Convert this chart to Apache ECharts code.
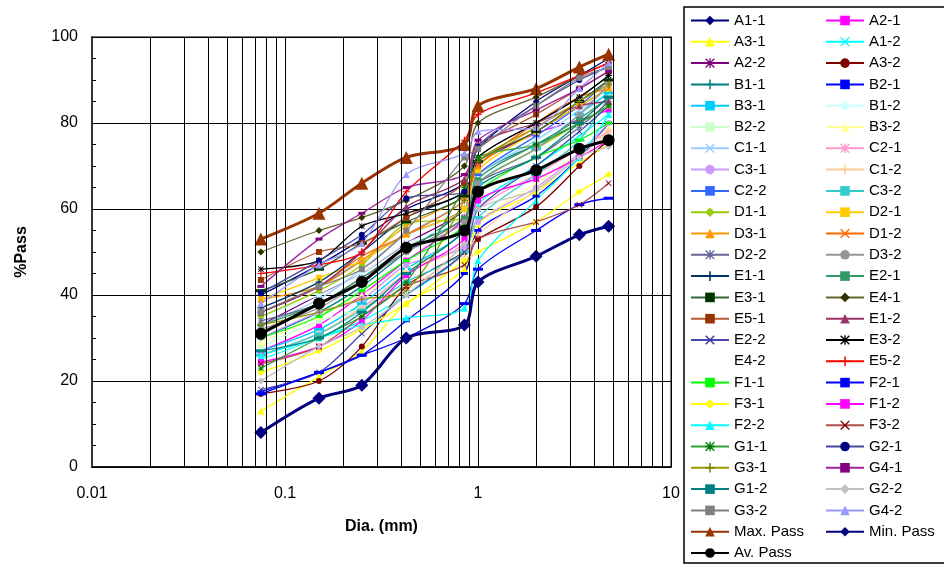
<!DOCTYPE html>
<html>
<head>
<meta charset="utf-8">
<title>%Pass</title>
<script src="https://cdn.jsdelivr.net/npm/echarts@6/dist/echarts.min.js"></script>
<style>
  html, body { margin: 0; background: #fff; }
  #main { width: 944px; height: 566px; }
</style>
</head>
<body>
<div id="main"></div>
<script>
// sieve sizes, mm
var dia = [0.075, 0.15, 0.25, 0.425, 0.85, 1, 2, 3.35, 4.75];

// % passing per sample
var A1_1 = [40, 47, 53, 60, 66, 74, 85, 91, 95];
var A2_1 = [27, 33, 40, 48, 58, 70, 77.6, 80.7, 83];
var A3_1 = [13, 21, 27, 38, 46, 56.5, 64, 70.7, 75];
var A1_2 = [25, 30, 34, 40, 50, 61, 70, 77, 82];
var A2_2 = [33, 40, 45, 52, 60, 70, 78, 84, 88];
var A3_2 = [17, 20, 28, 42, 50, 53, 60.5, 70, 76];
var B1_1 = [30, 36, 42, 50, 60, 68, 75, 80, 84];
var B2_1 = [17.5, 22, 26, 34, 45, 55, 63, 72, 80];
var B3_1 = [27, 32, 38, 46, 55, 66, 74, 82, 87];
var B1_2 = [35, 40, 45, 52, 58, 68, 76, 82, 89.5];
var B2_2 = [28, 34, 37, 45, 55, 65, 72, 79, 84];
var B3_2 = [29, 35, 40, 46, 51, 57, 66, 73, 79];
var C1_1 = [33, 39, 46, 54, 62, 68, 76, 83, 88];
var C2_1 = [26, 31, 37, 45, 52, 60, 68, 74, 78];
var C3_1 = [30, 36, 39, 47, 51, 57, 65, 73, 80];
var C1_2 = [26, 31, 37, 42, 49, 54, 64.5, 72, 78];
var C2_2 = [36, 42, 48, 54, 60, 68, 77, 84, 90];
var C3_2 = [26, 31, 36.5, 43, 50, 58, 68, 76, 86];
var D1_1 = [35, 41, 47, 56.5, 58, 66, 74, 80, 84];
var D2_1 = [39, 44, 48, 54, 60, 69, 78, 84, 88];
var D3_1 = [39, 42, 48, 56, 63, 70, 79, 85, 90];
var D1_2 = [36, 42, 49, 54, 62, 70, 80, 86, 88];
var D2_2 = [34, 38, 44, 50, 58, 66, 72, 79, 85];
var D3_2 = [32, 37, 43, 50, 57, 66, 74, 82, 89];
var E1_1 = [37, 43, 50, 58, 64, 72, 80, 86, 91];
var E2_1 = [33, 38, 44, 51, 58, 67, 75, 81, 86];
var E3_1 = [41, 46, 52, 57, 63, 71, 78, 85, 90];
var E4_1 = [50, 55, 58, 62, 70, 80, 86, 91, 94];
var E5_1 = [43.5, 50, 52, 58, 66, 74, 82, 88, 92];
var E1_2 = [36, 42, 50, 60.5, 67, 75, 80, 84, 85];
var E2_2 = [18, 22, 31, 40, 50, 60, 70, 78, 84];
var E3_2 = [46, 48, 56, 59, 64, 72, 80, 86, 91];
var E4_2 = [38, 44, 50, 56, 62, 70, 78, 85, 90];
var E5_2 = [45, 47, 50, 64, 76, 82, 87, 91, 94];
var F1_1 = [30, 35, 41, 48, 56, 64, 72, 76, 80];
var F2_1 = [17, 22, 26, 30, 38, 46, 55, 61, 62.5];
var F3_1 = [22, 27, 32, 38, 48, 50, 57, 64, 68];
var F1_2 = [24.4, 28, 34, 44.6, 53, 62, 67, 72, 76];
var F2_2 = [26, 30, 33, 34.7, 37, 48, 62, 72, 82];
var F3_2 = [24, 28, 35, 42, 47, 53, 57, 61, 66];
var G1_1 = [23, 30, 35, 43, 65, 72, 75, 80, 84];
var G2_1 = [40.5, 48, 54, 62.5, 64, 74.5, 84, 90, 93];
var G3_1 = [33, 36, 39, 41, 62, 71, 79, 85, 89];
var G4_1 = [42, 53, 59, 65, 68, 76, 83, 88, 92];
var G1_2 = [27, 30, 36, 45, 55, 65, 72, 80, 86];
var G2_2 = [20, 28, 32.5, 40, 52, 60, 64.5, 72, 74.5];
var G3_2 = [36, 42, 46, 55, 72, 74, 84, 90.5, 93];
var G4_2 = [38, 47, 52, 68, 73, 78, 79, 88, 94];

var maxPass = [53, 59, 66, 72, 75, 84, 88, 93, 96];
var minPass = [8, 16, 19, 30, 33, 43, 49, 54, 56];
var avPass  = [31, 38, 43, 51, 55, 64, 69, 74, 76];

var samples = {
  'A1-1': A1_1, 'A2-1': A2_1, 'A3-1': A3_1, 'A1-2': A1_2, 'A2-2': A2_2, 'A3-2': A3_2,
  'B1-1': B1_1, 'B2-1': B2_1, 'B3-1': B3_1, 'B1-2': B1_2, 'B2-2': B2_2, 'B3-2': B3_2,
  'C1-1': C1_1, 'C2-1': C2_1, 'C3-1': C3_1, 'C1-2': C1_2, 'C2-2': C2_2, 'C3-2': C3_2,
  'D1-1': D1_1, 'D2-1': D2_1, 'D3-1': D3_1, 'D1-2': D1_2, 'D2-2': D2_2, 'D3-2': D3_2,
  'E1-1': E1_1, 'E2-1': E2_1, 'E3-1': E3_1, 'E4-1': E4_1, 'E5-1': E5_1,
  'E1-2': E1_2, 'E2-2': E2_2, 'E3-2': E3_2, 'E4-2': E4_2, 'E5-2': E5_2,
  'F1-1': F1_1, 'F2-1': F2_1, 'F3-1': F3_1, 'F1-2': F1_2, 'F2-2': F2_2, 'F3-2': F3_2,
  'G1-1': G1_1, 'G2-1': G2_1, 'G3-1': G3_1, 'G4-1': G4_1,
  'G1-2': G1_2, 'G2-2': G2_2, 'G3-2': G3_2, 'G4-2': G4_2
};

// minor log grid lines
var minorLines = [0.02, 0.03, 0.04, 0.05, 0.06, 0.07, 0.08, 0.09,
                  0.2, 0.3, 0.4, 0.5, 0.6, 0.7, 0.8, 0.9,
                  2, 3, 4, 5, 6, 7, 8, 9];

var leftNames = ['A1-1', 'A3-1', 'A2-2', 'B1-1', 'B3-1', 'B2-2', 'C1-1', 'C3-1', 'C2-2',
  'D1-1', 'D3-1', 'D2-2', 'E1-1', 'E3-1', 'E5-1', 'E2-2', 'E4-2', 'F1-1', 'F3-1', 'F2-2',
  'G1-1', 'G3-1', 'G1-2', 'G3-2', 'Max. Pass', 'Av. Pass'];
var rightNames = ['A2-1', 'A1-2', 'A3-2', 'B2-1', 'B1-2', 'B3-2', 'C2-1', 'C1-2', 'C3-2',
  'D2-1', 'D1-2', 'D3-2', 'E2-1', 'E4-1', 'E1-2', 'E3-2', 'E5-2', 'F2-1', 'F1-2', 'F3-2',
  'G2-1', 'G4-1', 'G2-2', 'G4-2', 'Min. Pass'];

// marker shapes like the Excel ones
var CROSS = 'path://M0,1L1,0L5,4L9,0L10,1L6,5L10,9L9,10L5,6L1,10L0,9L4,5Z';
var PLUS = 'path://M4.2,0H5.8V4.2H10V5.8H5.8V10H4.2V5.8H0V4.2H4.2Z';
var STAR = 'path://M4.3,0H5.7V4.3H10V5.7H5.7V10H4.3V5.7H0V4.3H4.3Z M0,1L1,0L5,4L9,0L10,1L6,5L10,9L9,10L5,6L1,10L0,9L4,5Z';
var SHORT = [7, 3], LONG = [10, 3];

// name: [line colour, marker colour, symbol, size]
var style = {
  'A1-1': ['#000080', '#000080', 'diamond', 7],
  'A2-1': ['#FF00FF', '#FF00FF', 'rect', 6],
  'A3-1': ['#FFFF00', '#FFFF00', 'triangle', 7],
  'A1-2': ['#00FFFF', '#00FFFF', CROSS, 6],
  'A2-2': ['#800080', '#800080', STAR, 6],
  'A3-2': ['#800000', '#800000', 'circle', 6],
  'B1-1': ['#008080', '#008080', PLUS, 7],
  'B2-1': ['#0000FF', '#0000FF', 'rect', SHORT],
  'B3-1': ['#00CCFF', '#00CCFF', 'rect', LONG],
  'B1-2': ['#CCFFFF', '#CCFFFF', 'diamond', 7],
  'B2-2': ['#CCFFCC', '#CCFFCC', 'rect', 6],
  'B3-2': ['#FFFF99', '#FFFF99', 'triangle', 7],
  'C1-1': ['#99CCFF', '#99CCFF', CROSS, 6],
  'C2-1': ['#FF99CC', '#FF99CC', STAR, 6],
  'C3-1': ['#CC99FF', '#CC99FF', 'circle', 6],
  'C1-2': ['#FFCC99', '#FFCC99', PLUS, 7],
  'C2-2': ['#3366FF', '#3366FF', 'rect', SHORT],
  'C3-2': ['#33CCCC', '#33CCCC', 'rect', LONG],
  'D1-1': ['#99CC00', '#99CC00', 'diamond', 7],
  'D2-1': ['#FFCC00', '#FFCC00', 'rect', 6],
  'D3-1': ['#FF9900', '#FF9900', 'triangle', 7],
  'D1-2': ['#FF6600', '#FF6600', CROSS, 6],
  'D2-2': ['#666699', '#666699', STAR, 6],
  'D3-2': ['#969696', '#969696', 'circle', 6],
  'E1-1': ['#003366', '#003366', PLUS, 7],
  'E2-1': ['#339966', '#339966', 'rect', SHORT],
  'E3-1': ['#336633', '#003300', 'rect', LONG],
  'E4-1': ['#666633', '#333300', 'diamond', 7],
  'E5-1': ['#B35C33', '#993300', 'rect', 6],
  'E1-2': ['#993366', '#993366', 'triangle', 7],
  'E2-2': ['#4747B3', '#333399', CROSS, 6],
  'E3-2': ['#000000', '#000000', STAR, 6],
  'E4-2': ['#FFFFFF', '#FFFFFF', 'none', 0],
  'E5-2': ['#FF0000', '#FF0000', PLUS, 7],
  'F1-1': ['#00FF00', '#00FF00', 'rect', SHORT],
  'F2-1': ['#0000FF', '#0000FF', 'rect', LONG],
  'F3-1': ['#FFFF00', '#FFFF00', 'diamond', 7],
  'F1-2': ['#FF00FF', '#FF00FF', 'rect', 6],
  'F2-2': ['#00FFFF', '#00FFFF', 'triangle', 7],
  'F3-2': ['#B34D4D', '#800000', CROSS, 6],
  'G1-1': ['#33A033', '#008000', STAR, 6],
  'G2-1': ['#4747A0', '#000080', 'circle', 6],
  'G3-1': ['#999900', '#808000', PLUS, 7],
  'G4-1': ['#A020A0', '#800080', 'rect', SHORT],
  'G1-2': ['#008080', '#008080', 'rect', LONG],
  'G2-2': ['#C0C0C0', '#C0C0C0', 'diamond', 7],
  'G3-2': ['#808080', '#808080', 'rect', 6],
  'G4-2': ['#9999FF', '#9999FF', 'triangle', 7]
};

function pairs(vals) {
  return dia.map(function (d, i) { return [d, vals[i]]; });
}

var series = [{
  name: 'grid',
  type: 'line',
  data: [],
  z: 1,
  silent: true,
  markLine: {
    silent: true,
    symbol: ['none', 'none'],
    label: { show: false },
    lineStyle: { color: '#000', width: 1, type: 'solid' },
    data: minorLines.map(function (v) { return { xAxis: v }; })
  }
}];

Object.keys(samples).forEach(function (name) {
  var s = style[name];
  series.push({
    name: name,
    type: 'line',
    smooth: 0.3,
    data: pairs(samples[name]),
    symbol: s[2],
    symbolSize: s[3],
    z: 3,
    lineStyle: { color: s[0], width: 1.3, opacity: name === 'E4-2' ? 0 : 1 },
    itemStyle: { color: s[1] }
  });
});

series.push({
  name: 'Max. Pass', type: 'line', smooth: 0.3, data: pairs(maxPass),
  symbol: 'triangle', symbolSize: 13, z: 4,
  lineStyle: { color: '#993300', width: 3 }, itemStyle: { color: '#993300' }
});
series.push({
  name: 'Min. Pass', type: 'line', smooth: 0.3, data: pairs(minPass),
  symbol: 'diamond', symbolSize: 13, z: 4,
  lineStyle: { color: '#000080', width: 3 }, itemStyle: { color: '#000080' }
});
series.push({
  name: 'Av. Pass', type: 'line', smooth: 0.3, data: pairs(avPass),
  symbol: 'circle', symbolSize: 12, z: 4,
  lineStyle: { color: '#000000', width: 3 }, itemStyle: { color: '#000000' }
});

var font = 'Liberation Sans, Arial, sans-serif';
var legendBase = {
  orient: 'vertical',
  top: 13,
  height: 560,
  padding: 0,
  itemWidth: 38,
  itemHeight: 12,
  itemGap: 6.3,
  selectedMode: false,
  textStyle: { fontFamily: font, fontSize: 15, color: '#000', lineHeight: 15 }
};

var myChart = echarts.init(document.getElementById('main'));
myChart.setOption({
  animation: false,
  backgroundColor: '#fff',
  grid: {
    left: 92, right: 273, top: 37, bottom: 99,
    show: true, borderColor: '#808080', borderWidth: 2
  },
  xAxis: {
    type: 'log',
    logBase: 10,
    min: 0.01,
    max: 10,
    name: 'Dia. (mm)',
    nameLocation: 'middle',
    nameGap: 52,
    nameTextStyle: { fontFamily: font, fontSize: 16, fontWeight: 'bold', color: '#000' },
    axisLine: { lineStyle: { color: '#000', width: 1.5 } },
    axisTick: { show: false },
    axisLabel: { fontFamily: font, fontSize: 16, color: '#000', margin: 19 },
    splitLine: { show: true, lineStyle: { color: '#000', width: 1 } }
  },
  yAxis: {
    type: 'value',
    min: 0,
    max: 100,
    interval: 20,
    name: '%Pass',
    nameLocation: 'middle',
    nameGap: 62,
    nameTextStyle: { fontFamily: font, fontSize: 16, fontWeight: 'bold', color: '#000' },
    axisLine: { show: true, lineStyle: { color: '#333', width: 2 } },
    axisTick: { show: true, inside: true, length: 5, lineStyle: { color: '#000' } },
    minorTick: { show: true, splitNumber: 4, length: 4, lineStyle: { color: '#000' } },
    axisLabel: { fontFamily: font, fontSize: 16, color: '#000', margin: 14 },
    splitLine: { show: true, lineStyle: { color: '#000', width: 1 } }
  },
  legend: [
    Object.assign({}, legendBase, { left: 690, data: leftNames }),
    Object.assign({}, legendBase, { left: 825, data: rightNames })
  ],
  graphic: [{
    type: 'rect',
    shape: { x: 684, y: 7, width: 300, height: 556 },
    style: { fill: 'none', stroke: '#000', lineWidth: 1.5 },
    z: 0
  }],
  series: series
});
</script>
</body>
</html>
